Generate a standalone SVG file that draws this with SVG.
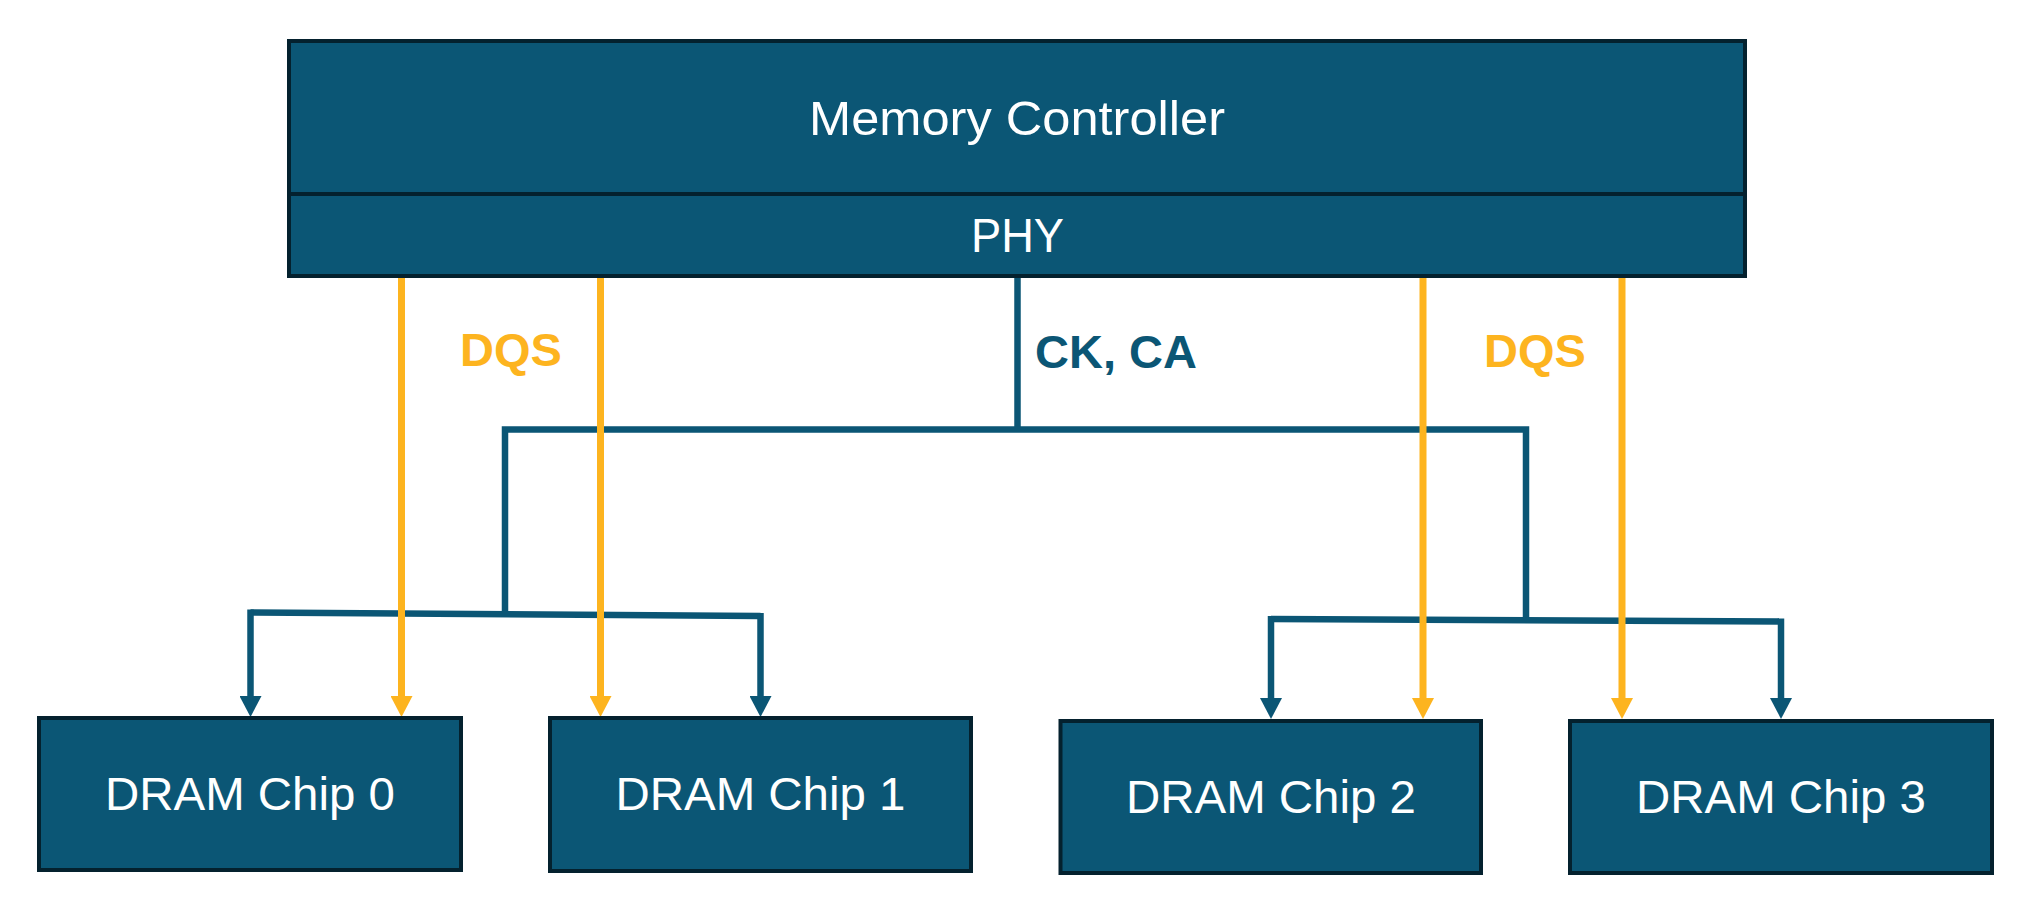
<svg xmlns="http://www.w3.org/2000/svg" width="2044" height="916" viewBox="0 0 2044 916">
<style>
.box{fill:#0B5675;stroke:#04212E;stroke-width:4}
.lbl{font-family:"Liberation Sans",Arial,sans-serif;fill:#FFFFFF;text-anchor:middle}
.bus{fill:none;stroke:#0B5675;stroke-width:6.5}
.dqs{fill:none;stroke:#FDB41F;stroke-width:7}
.sig{font-family:"Liberation Sans",Arial,sans-serif;font-weight:bold;font-size:47px}
</style>
<defs>
<marker id="ab" markerUnits="userSpaceOnUse" markerWidth="21" markerHeight="22" viewBox="0 0 21 22" refX="9" refY="11" orient="auto">
<path d="M0,0 L21,11 L0,22 Z" fill="#0B5675"/>
</marker>
<marker id="ay" markerUnits="userSpaceOnUse" markerWidth="21" markerHeight="22" viewBox="0 0 21 22" refX="9" refY="11" orient="auto">
<path d="M0,0 L21,11 L0,22 Z" fill="#FDB41F"/>
</marker>
</defs>
<rect width="2044" height="916" fill="#FFFFFF"/>
<g id="connectors">
<path class="bus" d="M1017.5,277 L1017.5,429.5"/>
<path class="bus" d="M505,613 L505,429.5 L1526,429.5 L1526,620" stroke-linejoin="miter"/>
<path class="bus" d="M250.5,612.5 L760.5,616"/>
<path class="bus" d="M250.5,609.5 L250.5,705" marker-end="url(#ab)"/>
<path class="bus" d="M760.5,613 L760.5,705" marker-end="url(#ab)"/>
<path class="bus" d="M1271,619 L1781,621.5"/>
<path class="bus" d="M1271,616 L1271,707" marker-end="url(#ab)"/>
<path class="bus" d="M1781,618.5 L1781,707" marker-end="url(#ab)"/>
<path class="dqs" d="M401.5,276 L401.5,705" marker-end="url(#ay)"/>
<path class="dqs" d="M600.5,276 L600.5,705" marker-end="url(#ay)"/>
<path class="dqs" d="M1423,276 L1423,707" marker-end="url(#ay)"/>
<path class="dqs" d="M1622,276 L1622,707" marker-end="url(#ay)"/>
<text class="sig" x="460" y="366" fill="#FDB41F">DQS</text>
<text class="sig" x="1035" y="368" fill="#0B5675">CK, CA</text>
<text class="sig" x="1484" y="367" fill="#FDB41F">DQS</text>
</g>
<g id="memory-controller">
<rect class="box" x="289" y="41" width="1456" height="235"/>
<line x1="289" y1="194" x2="1745" y2="194" stroke="#04212E" stroke-width="4"/>
<text class="lbl" x="1017" y="135" font-size="48" textLength="416" lengthAdjust="spacingAndGlyphs">Memory Controller</text>
</g>
<g id="phy">
<text class="lbl" x="1017.5" y="252" font-size="48" textLength="93" lengthAdjust="spacingAndGlyphs">PHY</text>
</g>
<g id="dram-chip-0">
<rect class="box" x="39" y="718" width="422" height="152"/>
<text class="lbl" x="250" y="810" font-size="46" textLength="290" lengthAdjust="spacingAndGlyphs">DRAM Chip 0</text>
</g>
<g id="dram-chip-1">
<rect class="box" x="550" y="718" width="421" height="153"/>
<text class="lbl" x="760.5" y="810" font-size="46" textLength="290" lengthAdjust="spacingAndGlyphs">DRAM Chip 1</text>
</g>
<g id="dram-chip-2">
<rect class="box" x="1060.5" y="721" width="420.5" height="152"/>
<text class="lbl" x="1271" y="813" font-size="46" textLength="290" lengthAdjust="spacingAndGlyphs">DRAM Chip 2</text>
</g>
<g id="dram-chip-3">
<rect class="box" x="1570" y="721" width="422" height="152"/>
<text class="lbl" x="1781" y="813" font-size="46" textLength="290" lengthAdjust="spacingAndGlyphs">DRAM Chip 3</text>
</g>
</svg>
